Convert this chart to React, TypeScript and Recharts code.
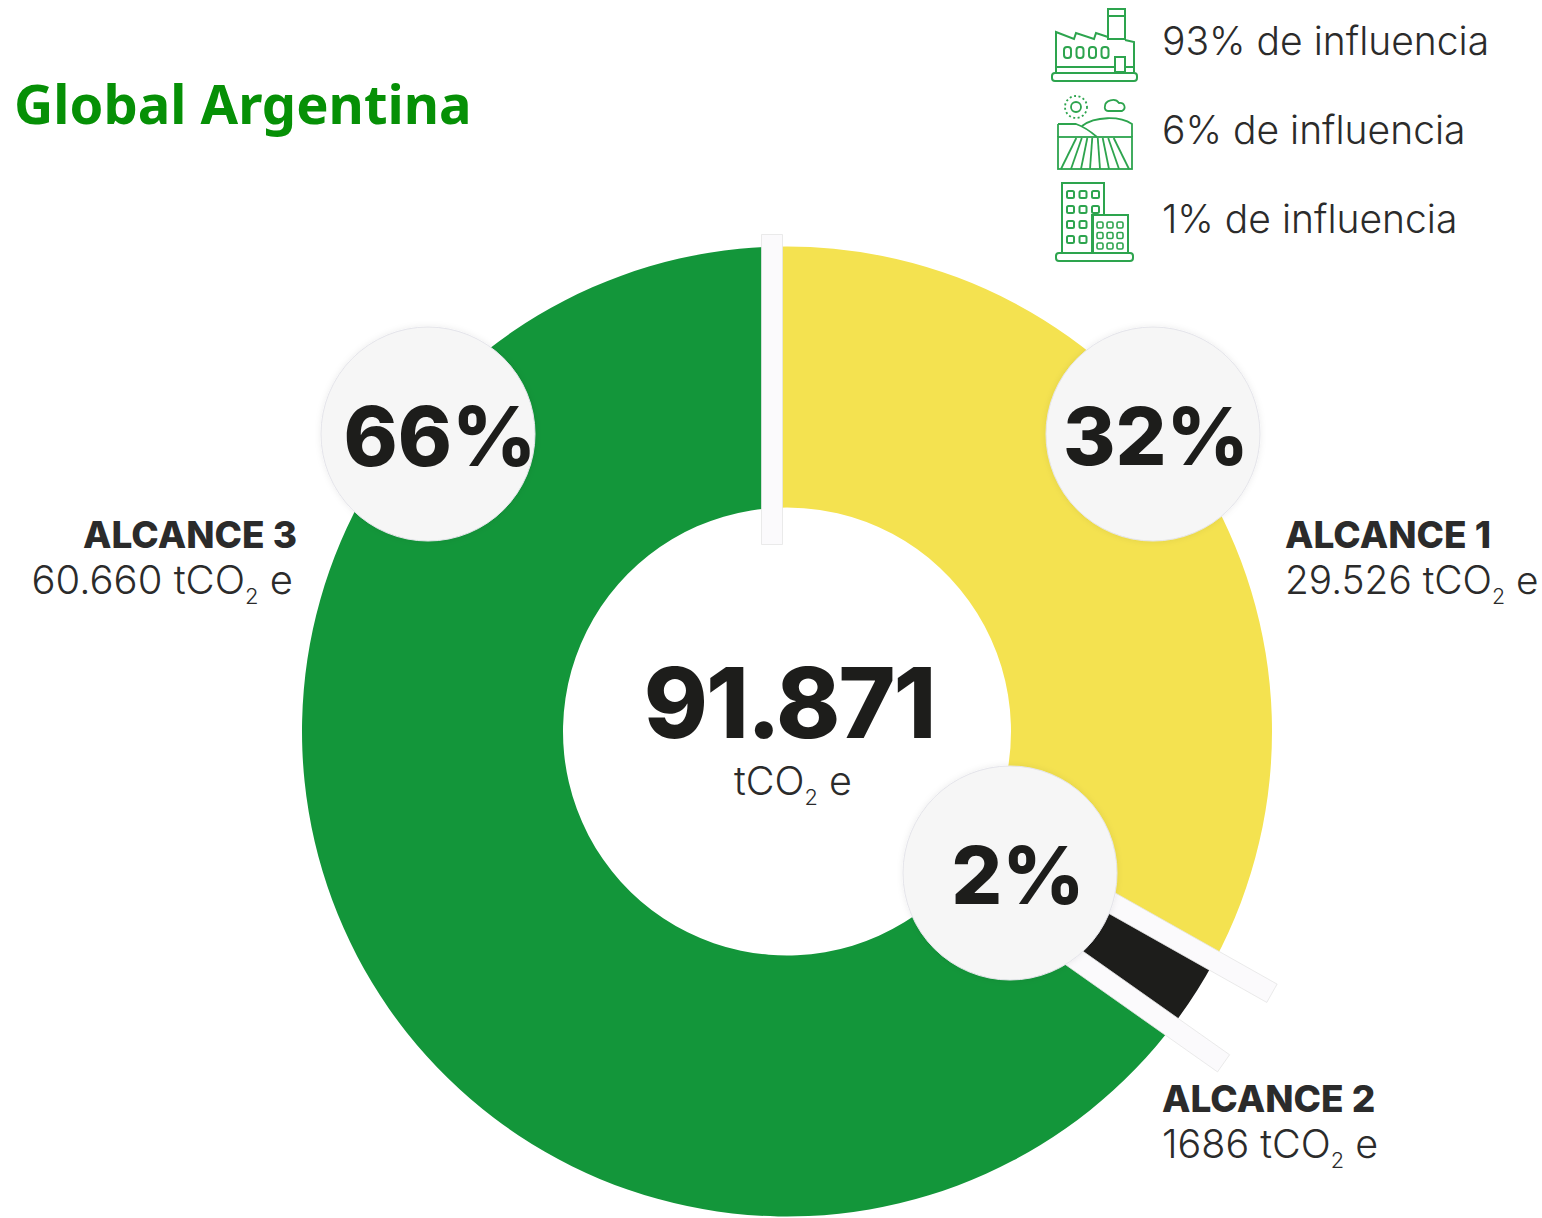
import React from 'react';
import { PieChart, Pie, Cell } from 'recharts';

const scopes = ['ALCANCE 1', 'ALCANCE 2', 'ALCANCE 3'];
const printedTonnes = ['29.526', '1686', '60.660'];
const printedPercents = ['32%', '2%', '66%'];
// share of the ring as it is drawn in the picture (degrees of sweep / 3.6)
const drawnShares = [33.4, 2.4, 64.2];
const influence = ['93% de influencia', '6% de influencia', '1% de influencia'];
const totalLabel = '91.871';

const sliceColors = ['#f4e250', '#1d1d1b', '#13963a'];
const GREEN = '#2da44e';
const INK = '#2b2b2b';
const SANS = 'Inter, sans-serif';
const CX = 787;
const CY = 731.5;
const START = -2;

const chartData = scopes.map((name, i) => ({ name, value: drawnShares[i] }));

function Strip({ angle, offset, from, to }: { angle: number; offset: number; from: number; to: number }) {
  const rad = (angle * Math.PI) / 180;
  const d = [Math.sin(rad), -Math.cos(rad)];
  const n = [-d[1], d[0]];
  const p = (t: number, o: number) => `${CX + t * d[0] + o * n[0]},${CY + t * d[1] + o * n[1]}`;
  const w = 10.5;
  return (
    <polygon
      points={[p(from, offset - w), p(to, offset - w), p(to, offset + w), p(from, offset + w)].join(' ')}
      fill="#fbfafc"
      stroke="#e4e4e4"
      strokeWidth={0.8}
    />
  );
}

function Badge({ x, y, r, label, size, dx }: { x: number; y: number; r: number; label: string; size: number; dx: number }) {
  return (
    <g>
      <circle cx={x} cy={y} r={r} fill="#f6f6f6" stroke="#e4e4ea" strokeWidth={1} filter="url(#soft)" />
      <text x={x + dx} y={y + size * 0.36 + 2} textAnchor="middle" fontFamily={SANS} fontWeight={800} fontSize={size} fill="#1d1d1b">
        {label}
      </text>
    </g>
  );
}

function Tonnes({ x, y, anchor, size, value }: { x: number; y: number; anchor?: 'start' | 'middle' | 'end'; size: number; value?: string }) {
  return (
    <text x={x} y={y} textAnchor={anchor ?? 'start'} fontFamily={SANS} fontWeight={300} fontSize={size} fill={INK}>
      {value ? `${value} ` : ''}tCO
      <tspan dy={size * 0.25} fontSize={size * 0.55}>2</tspan>
      <tspan dy={-size * 0.25}> e</tspan>
    </text>
  );
}

function Factory() {
  return (
    <g fill="none" stroke={GREEN} strokeWidth={2}>
      <rect x={1108} y={9} width={17} height={30} />
      <path d="M1108 16H1125" />
      <path d="M1056 72V32L1074 39L1076 33L1094 39L1096 33L1108 37M1125 40L1134 42V72" />
      <rect x={1052} y={73} width={85} height={8} rx={3} />
      <path d="M1056 67H1115M1125 67H1134" />
      {[0, 1, 2, 3].map(i => <rect key={i} x={1064 + i * 12.5} y={47} width={7} height={11} rx={3} />)}
      <rect x={1115} y={57} width={10} height={15} />
    </g>
  );
}

function Field() {
  return (
    <g fill="none" stroke={GREEN} strokeWidth={1.8}>
      <circle cx={1076} cy={107} r={5} />
      <circle cx={1076} cy={107} r={11} strokeDasharray="2 2.5" />
      <path d="M1108 111H1122C1127 108 1124 102 1119 103C1115 97 1105 101 1105 106C1104 109 1106 111 1108 111" />
      <rect x={1058} y={137} width={74} height={32} />
      <path d="M1058 124H1076C1082 126 1090 131 1097 137M1082 126C1095 116 1120 116 1132 124V137M1058 124V137" />
      {[-34, -24, -14, -5, 5, 14, 24, 34].map(o => <path key={o} d={`M${1095 + o * 0.55} 138L${1095 + o} 169`} />)}
    </g>
  );
}

function Building() {
  const cols = [0, 1, 2];
  return (
    <g fill="none" stroke={GREEN} strokeWidth={2}>
      <path d="M1092 253V215H1104V183H1062V253" />
      <rect x={1093} y={215} width={35} height={38} />
      <rect x={1056} y={253} width={77} height={8} rx={3} />
      {[0, 1, 2, 3].map(r => cols.filter(c => r < 2 || c < 2).map(c => (
        <rect key={`${r}-${c}`} x={1067 + c * 12.5} y={191 + r * 15} width={7} height={7} rx={1.5} />
      )))}
      {[0, 1, 2].map(r => cols.map(c => (
        <rect key={`s${r}-${c}`} x={1097 + c * 10} y={222 + r * 10.5} width={6} height={6} rx={1.5} strokeWidth={1.6} />
      )))}
    </g>
  );
}

export default function App() {
  return (
    <div style={{ position: 'absolute', left: 0, top: 0, width: 1542, height: 1218, background: '#fff', overflow: 'hidden' }}>
      <PieChart width={1542} height={1218} margin={{ top: 0, right: 0, bottom: 0, left: 0 }}>
        <Pie
          data={chartData}
          dataKey="value"
          nameKey="name"
          cx={CX}
          cy={CY}
          innerRadius={224}
          outerRadius={485}
          startAngle={90 - START}
          endAngle={90 - START - 360}
          stroke="none"
          isAnimationActive={false}
        >
          {chartData.map((_, i) => <Cell key={i} fill={sliceColors[i]} />)}
        </Pie>
      </PieChart>

      <svg width={1542} height={1218} style={{ position: 'absolute', left: 0, top: 0 }}>
        <defs>
          <filter id="soft" x="-20%" y="-20%" width="140%" height="140%">
            <feDropShadow dx={0} dy={0} stdDeviation={3} floodColor="#000" floodOpacity={0.08} />
          </filter>
        </defs>

        <text x={14} y={124} fontFamily="'Noto Sans', sans-serif" fontWeight={700} fontSize={54.3} fill="#069006">Global Argentina</text>

        <Strip angle={0} offset={-15} from={187} to={497} />
        <Strip angle={119.4} offset={-10} from={300} to={551} />
        <Strip angle={125.2} offset={19.5} from={300} to={548} />

        <Badge x={428} y={434} r={107} label={printedPercents[2]} size={82} dx={12} />
        <Badge x={1153} y={434} r={107} label={printedPercents[0]} size={80} dx={3} />
        <Badge x={1010} y={873} r={107} label={printedPercents[1]} size={80} dx={8} />

        <text x={789} y={738} textAnchor="middle" fontFamily={SANS} fontWeight={800} fontSize={97} letterSpacing={-2} fill="#1d1d1b">{totalLabel}</text>
        <Tonnes x={793} y={795} anchor="middle" size={39.5} />

        <text x={297} y={548} textAnchor="end" fontFamily={SANS} fontWeight={800} fontSize={37} fill={INK}>{scopes[2]}</text>
        <Tonnes x={293} y={594} anchor="end" size={40} value={printedTonnes[2]} />
        <text x={1285} y={548} fontFamily={SANS} fontWeight={800} fontSize={37} fill={INK}>{scopes[0]}</text>
        <Tonnes x={1285} y={594} size={38.8} value={printedTonnes[0]} />
        <text x={1162} y={1112} fontFamily={SANS} fontWeight={800} fontSize={37} fill={INK}>{scopes[1]}</text>
        <Tonnes x={1162} y={1158} size={39.5} value={printedTonnes[1]} />

        <Factory />
        <Field />
        <Building />
        {influence.map((t, i) => (
          <text key={t} x={1162} y={[55, 144, 233][i]} fontFamily={SANS} fontWeight={300} fontSize={39} fill={INK}>{t}</text>
        ))}
      </svg>
    </div>
  );
}
